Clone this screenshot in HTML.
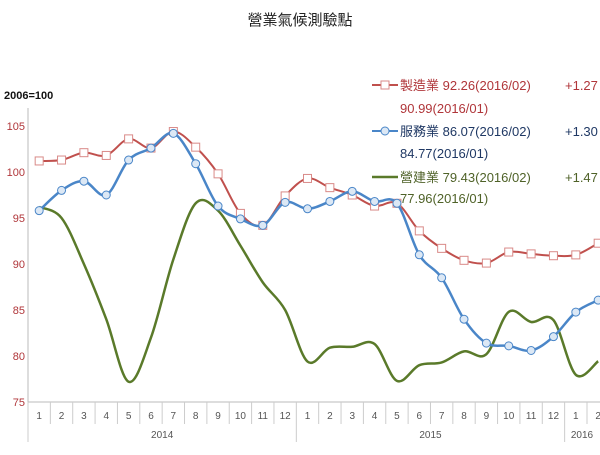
<!DOCTYPE html>
<html><head><meta charset="utf-8"><style>
body{margin:0;background:#fff;width:600px;height:450px;overflow:hidden;font-family:"Liberation Sans","Noto Sans CJK TC",sans-serif}
</style></head><body>
<svg id="c" width="600" height="450" xmlns="http://www.w3.org/2000/svg">
<text x="300" y="25" text-anchor="middle" font-size="15" fill="#222" font-family="Liberation Sans,Noto Sans CJK TC,sans-serif">營業氣候測驗點</text>
<text x="4" y="99" font-size="11" font-weight="bold" fill="#111">2006=100</text>
<g id="axes"></g><g id="series"></g>
<g font-size="13" font-family="Liberation Sans,Noto Sans CJK TC,sans-serif">
<g fill="#b0363a">
<line x1="372" y1="85" x2="398" y2="85" stroke="#c0504d" stroke-width="2"/><rect x="381" y="81" width="8" height="8" fill="#fff" stroke="#d98a88"/>
<text x="400" y="90">製造業 92.26(2016/02)</text><text x="565" y="90">+1.27</text><text x="400" y="113">90.99(2016/01)</text></g>
<g fill="#1f3864">
<line x1="372" y1="131" x2="398" y2="131" stroke="#4a86c8" stroke-width="2"/><circle cx="385" cy="131" r="4" fill="#dce8f5" stroke="#4a86c8"/>
<text x="400" y="136">服務業 86.07(2016/02)</text><text x="565" y="136">+1.30</text><text x="400" y="158">84.77(2016/01)</text></g>
<g fill="#4f6228">
<line x1="372" y1="177" x2="398" y2="177" stroke="#5a7a2a" stroke-width="2.5"/>
<text x="400" y="182">營建業 79.43(2016/02)</text><text x="565" y="182">+1.47</text><text x="400" y="203">77.96(2016/01)</text></g>
</g>
</svg>
<script>
const months=["1","2","3","4","5","6","7","8","9","10","11","12","1","2","3","4","5","6","7","8","9","10","11","12","1","2"];
const years=[["2014",0,12],["2015",12,24],["2016",24,26]];
const yTicks=[75,80,85,90,95,100,105];
const manufacturing=[101.2,101.3,102.1,101.8,103.6,102.6,104.4,102.7,99.8,95.5,94.2,97.4,99.3,98.3,97.5,96.3,96.6,93.6,91.7,90.4,90.1,91.3,91.1,90.9,90.99,92.26];
const services=[95.8,98.0,99.0,97.5,101.3,102.6,104.2,100.9,96.3,94.9,94.2,96.7,96.0,96.8,97.9,96.8,96.6,91.0,88.5,84.0,81.4,81.1,80.6,82.1,84.77,86.07];
const construction=[96.2,95.0,90.0,84.0,77.2,82.0,90.5,96.6,95.8,92.0,88.0,85.0,79.4,80.9,81.0,81.3,77.3,79.0,79.3,80.5,80.2,84.8,83.7,83.9,77.96,79.43];
const NS="http://www.w3.org/2000/svg";
const x0=28,step=22.36;
const xs=i=>x0+step*(i+0.5);
const ys=v=>402-(v-75)*9.2;
function mk(tag,attrs,parent){const e=document.createElementNS(NS,tag);for(const k in attrs)e.setAttribute(k,attrs[k]);parent.appendChild(e);return e;}
const ax=document.getElementById('axes'),sr=document.getElementById('series');
let a=mk('line',{x1:x0,y1:108,x2:x0,y2:402,stroke:'#bbb'},ax);


a=mk('line',{x1:x0,y1:402,x2:600,y2:402,stroke:'#bbb'},ax);


yTicks.forEach(v=>{const t=mk('text',{x:25,y:ys(v)+4,'text-anchor':'end','font-size':11,fill:'#b0363a'},ax);t.textContent=v;

});
months.forEach((m,i)=>{const t=mk('text',{x:xs(i),y:419,'text-anchor':'middle','font-size':10,fill:'#555'},ax);t.textContent=m;


const isY=years.some(y=>y[1]===i+1);
mk('line',{x1:x0+step*(i+1),y1:402,x2:x0+step*(i+1),y2:isY?442:424,stroke:'#ccc'},ax);});
mk('line',{x1:x0,y1:402,x2:x0,y2:442,stroke:'#ccc'},ax);
years.forEach(y=>{const t=mk('text',{x:Math.min(x0+step*(y[1]+y[2])/2,582),y:438,'text-anchor':'middle','font-size':10,fill:'#555'},ax);t.textContent=y[0];

});
function smooth(pts){let d=`M${pts[0][0]},${pts[0][1]}`;for(let i=0;i<pts.length-1;i++){const p0=pts[i-1]||pts[i],p1=pts[i],p2=pts[i+1],p3=pts[i+2]||p2;
d+=` C${p1[0]+(p2[0]-p0[0])/6},${p1[1]+(p2[1]-p0[1])/6} ${p2[0]-(p3[0]-p1[0])/6},${p2[1]-(p3[1]-p1[1])/6} ${p2[0]},${p2[1]}`;}return d;}
function draw(vals,color,w,name,marker){const pts=vals.map((v,i)=>[xs(i),ys(v)]);
const p=mk('path',{d:smooth(pts),fill:'none',stroke:color,'stroke-width':w},sr);


if(marker)pts.forEach(q=>{let m;if(marker==='sq')m=mk('rect',{x:q[0]-4,y:q[1]-4,width:8,height:8,fill:'#fff',stroke:'#d98a88'},sr);else m=mk('circle',{cx:q[0],cy:q[1],r:4,fill:'#dce8f5',stroke:'#4a86c8'},sr);

});}
draw(construction,'#5a7a2a',2.5,'construction',null);
draw(manufacturing,'#c0504d',2,'manufacturing','sq');
draw(services,'#4a86c8',2.5,'services','ci');
</script>
</body></html>
